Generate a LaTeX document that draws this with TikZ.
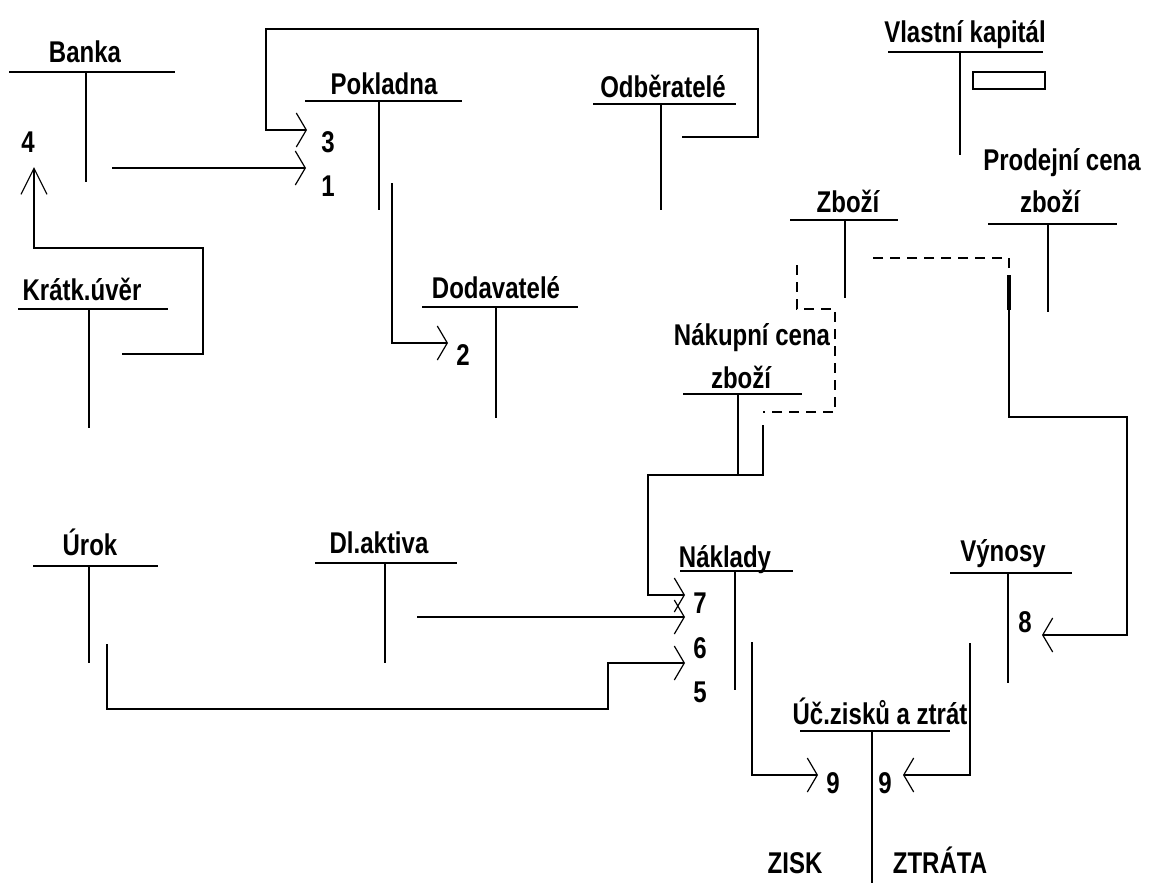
\documentclass[tikz,border=0pt]{standalone}
\usepackage{fontspec}
\setmainfont{Liberation Sans}
\usetikzlibrary{arrows.meta}
\newcommand{\tsq}[1]{\scalebox{0.8}[1]{#1}}
\newcommand{\tacc}[6]{%
  \coordinate (#1-l) at (#2,#4);
  \coordinate (#1-r) at (#3,#4);
  \coordinate (#1-t) at (#5,#4);
  \coordinate (#1-b) at (#5,#6);
  \draw[ln] (#1-l) -- (#1-r);
  \draw[ln] (#1-t) -- (#1-b);}
\tikzset{
  ln/.style={line width=1.8pt},
  dsh/.style={line width=1.8pt, dash pattern=on 10pt off 7pt},
  tip/.style={-{Straight Barb[length=10pt,width=34pt,line width=1.2pt]}},
  lbl/.style={inner sep=0pt, anchor=base, font=\fontsize{30}{32}\selectfont\bfseries},
  num/.style={inner sep=0pt, anchor=center, font=\fontsize{30}{32}\selectfont\bfseries}
}
\begin{document}
\begin{tikzpicture}[x=1pt,y=-1pt]
\useasboundingbox (0,0) rectangle (1150,883);

% ---------- T-accounts ----------
\node[lbl] (tBanka) at (85,63) {\tsq{Banka}};
\tacc{banka}{9}{175}{72}{86}{182}

\node[lbl] (tPokl) at (384,94) {\tsq{Pokladna}};
\tacc{pokl}{305}{462}{101}{379}{210}

\node[lbl] (tOdb) at (663,97) {\tsq{Odběratelé}};
\tacc{odb}{593}{736}{104}{661}{210}

\node[lbl] (tVK) at (965,42) {\tsq{Vlastní kapitál}};
\tacc{vk}{888}{1043}{52}{960}{155}
\draw[ln] (973,72) rectangle (1045,89);

\node[lbl] (tProd1) at (1062,170) {\tsq{Prodejní cena}};
\node[lbl] (tProd2) at (1050,212) {\tsq{zboží}};
\tacc{prod}{988}{1117}{224}{1048}{312}

\node[lbl] (tZbozi) at (848,212) {\tsq{Zboží}};
\tacc{zbozi}{790}{898}{220}{845}{298}

\node[lbl] (tKrat) at (82,300) {\tsq{Krátk.úvěr}};
\tacc{krat}{18}{168}{309}{89}{428}

\node[lbl] (tDod) at (496,298) {\tsq{Dodavatelé}};
\tacc{dod}{422}{578}{307}{496}{418}

\node[lbl] (tNak1) at (752,345) {\tsq{Nákupní cena}};
\node[lbl] (tNak2) at (741,388) {\tsq{zboží}};
\tacc{nak}{683}{802}{394}{738}{475}

\node[lbl] (tUrok) at (90,555) {\tsq{Úrok}};
\tacc{urok}{33}{158}{566}{89}{663}

\node[lbl] (tDl) at (379,553) {\tsq{Dl.aktiva}};
\tacc{dl}{315}{457}{563}{385}{663}

\node[lbl] (tNakl) at (725,567) {\tsq{Náklady}};
\tacc{nakl}{680}{793}{571}{735}{690}

\node[lbl] (tVyn) at (1003,561) {\tsq{Výnosy}};
\tacc{vyn}{950}{1072}{573}{1008}{683}

\node[lbl] (tUcz) at (880,724) {\tsq{Úč.zisků a ztrát}};
\tacc{ucz}{800}{950}{731}{872}{883}

\node[lbl] (tZisk) at (795,873) {\tsq{ZISK}};
\node[lbl] (tZtrata) at (940,873) {\tsq{ZTRÁTA}};

% ---------- numbers ----------
\node[num] (n4) at (28,142) {\tsq{4}};
\node[num] (n3) at (328,142) {\tsq{3}};
\node[num] (n1) at (328,186) {\tsq{1}};
\node[num] (n2) at (463,355) {\tsq{2}};
\node[num] (n7) at (700,603) {\tsq{7}};
\node[num] (n6) at (700,648) {\tsq{6}};
\node[num] (n5) at (700,692) {\tsq{5}};
\node[num] (n8) at (1025,622) {\tsq{8}};
\node[num] (n9a) at (833,783) {\tsq{9}};
\node[num] (n9b) at (885,783) {\tsq{9}};

% ---------- connector points ----------
\coordinate (c1s) at (112,168);  \coordinate (c1e) at (306,168);
\coordinate (c3s) at (682,137);  \coordinate (c3a) at (758,137);
\coordinate (c3b) at (758,29);   \coordinate (c3c) at (266,29);
\coordinate (c3d) at (266,130);  \coordinate (c3e) at (307,130);
\coordinate (c2s) at (392,183);  \coordinate (c2a) at (392,343);
\coordinate (c2e) at (448,343);
\coordinate (c4s) at (122,354);  \coordinate (c4a) at (203,354);
\coordinate (c4b) at (203,248);  \coordinate (c4c) at (34,248);
\coordinate (c4e) at (34,167);
\coordinate (c7s) at (763,425);  \coordinate (c7a) at (763,475);
\coordinate (c7b) at (648,475);  \coordinate (c7c) at (648,595);
\coordinate (c7e) at (685,595);
\coordinate (c6s) at (417,617);  \coordinate (c6e) at (685,617);
\coordinate (c5s) at (107,644);  \coordinate (c5a) at (107,709);
\coordinate (c5b) at (608,709);  \coordinate (c5c) at (608,663);
\coordinate (c5e) at (685,663);
\coordinate (c8s) at (1009,275); \coordinate (c8t) at (1009,310);
\coordinate (c8a) at (1009,417); \coordinate (c8b) at (1127,417);
\coordinate (c8c) at (1127,635); \coordinate (c8e) at (1042,635);
\coordinate (c9s) at (752,642);  \coordinate (c9a) at (752,775);
\coordinate (c9e) at (818,775);
\coordinate (c10s) at (970,643); \coordinate (c10a) at (970,775);
\coordinate (c10e) at (903,775);
\coordinate (d1s) at (1009,268); \coordinate (d1a) at (1009,258);
\coordinate (d1e) at (866,258);
\coordinate (d2s) at (797,265);  \coordinate (d2a) at (797,309);
\coordinate (d2b) at (835,309);  \coordinate (d2c) at (835,412);
\coordinate (d2e) at (763,412);

% ---------- connectors ----------
\draw[ln,tip] (c1s) -- (c1e);
\draw[ln,tip] (c3s) -- (c3a) -- (c3b) -- (c3c) -- (c3d) -- (c3e);
\draw[ln,tip] (c2s) -- (c2a) -- (c2e);
\draw[ln,-{Straight Barb[length=26pt,width=26pt,line width=1.2pt]}] (c4s) -- (c4a) -- (c4b) -- (c4c) -- (c4e);
\draw[ln,tip] (c7s) -- (c7a) -- (c7b) -- (c7c) -- (c7e);
\draw[ln,tip] (c6s) -- (c6e);
\draw[ln,tip] (c5s) -- (c5a) -- (c5b) -- (c5c) -- (c5e);
\draw[ln,tip] (c8s) -- (c8a) -- (c8b) -- (c8c) -- (c8e);
\draw[line width=3.6pt] (c8s) -- (c8t);
\draw[ln,tip] (c9s) -- (c9a) -- (c9e);
\draw[ln,tip] (c10s) -- (c10a) -- (c10e);
\draw[dsh] (d1s) -- (d1a) -- (d1e);
\draw[dsh] (d2s) -- (d2a) -- (d2b) -- (d2c) -- (d2e);
\end{tikzpicture}
\end{document}
